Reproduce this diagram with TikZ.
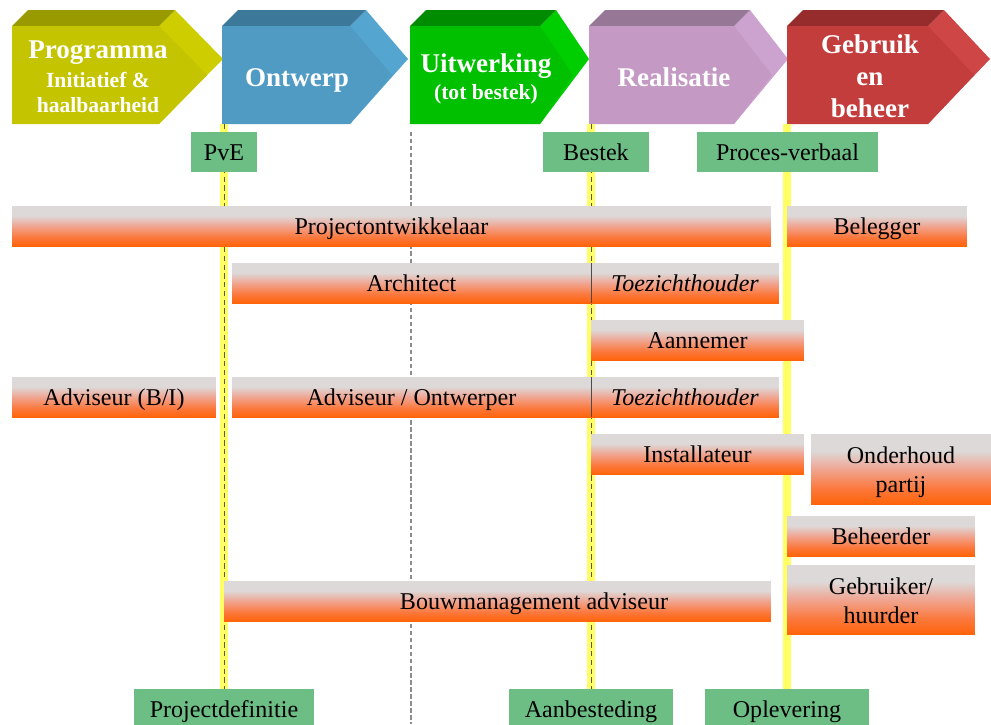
\documentclass[tikz,border=0pt]{standalone}
\usepackage{fontspec}
\setmainfont{Liberation Serif}

\definecolor{progf}{RGB}{197,196,0}
\definecolor{progt}{RGB}{153,153,0}
\definecolor{progs}{RGB}{205,205,0}
\definecolor{ontf}{RGB}{79,155,196}
\definecolor{ontt}{RGB}{59,120,153}
\definecolor{onts}{RGB}{84,165,208}
\definecolor{uitf}{RGB}{0,192,0}
\definecolor{uitt}{RGB}{0,140,0}
\definecolor{uits}{RGB}{0,206,0}
\definecolor{realf}{RGB}{196,153,196}
\definecolor{realt}{RGB}{150,120,150}
\definecolor{reals}{RGB}{204,162,206}
\definecolor{gebrf}{RGB}{196,61,61}
\definecolor{gebrt}{RGB}{150,44,44}
\definecolor{gebrs}{RGB}{206,70,70}
\definecolor{mgreen}{RGB}{109,190,133}
\definecolor{myellow}{RGB}{255,255,100}
\definecolor{bartop}{RGB}{221,217,217}
\definecolor{barmid}{RGB}{240,165,145}
\definecolor{barlow}{RGB}{251,120,60}
\definecolor{barbot}{RGB}{255,100,10}

\pgfdeclareverticalshading{rolebar}{100bp}{color(0bp)=(barbot); color(25bp)=(barbot);
  color(36bp)=(barlow); color(50bp)=(barmid); color(63bp)=(bartop); color(75bp)=(bartop);
  color(100bp)=(bartop)}

\newcommand\rolefont{\fontsize{13.7}{16.5}\selectfont}

\begin{document}
\begin{tikzpicture}[x=0.02cm, y=-0.02cm,
    role/.style={shade, shading=rolebar, minimum height=0.8cm, inner sep=0pt,
      font=\rolefont, text height=10.5pt, text depth=0.3pt},
    tworole/.style={role, align=center, text height=27.3pt},
    mstone/.style={fill=mgreen, minimum height=0.8cm, inner sep=0pt,
      font=\rolefont, text height=10.5pt, text depth=0.3pt},
    head/.style={text=white, font=\bfseries\fontsize{15.4}{18}\selectfont,
      anchor=base, inner sep=0pt},
    subhead/.style={head, font=\bfseries\fontsize{12.3}{14}\selectfont},
    mline/.style={draw=myellow, line width=0.16cm},
    mdash/.style={draw=black!65, line width=0.5pt, dash pattern=on 3pt off 2pt},
    split/.style={draw=black!45, line width=0.6pt, dash pattern=on 2.5pt off 1.5pt},
    sep/.style={draw=black!70, line width=0.8pt}]
  \useasboundingbox (0,0) rectangle (991,724);
  \clip (0,0) rectangle (991,724);

  \foreach \xa/\xb/\xt/\cf/\ct/\cs in {12/159/207/progf/progt/progs,
      222/350/392/ontf/ontt/onts, 410/540/573/uitf/uitt/uits,
      589/734/772/realf/realt/reals, 787/928/974/gebrf/gebrt/gebrs} {
    \fill[\cs] (\xb,26) -- (\xb+16,10) -- (\xt+16,59) -- (\xb,124) -- cycle;
    \fill[\ct] (\xa,26) -- (\xa+16,10) -- (\xb+16,10) -- (\xb,26) -- cycle;
    \fill[\cf] (\xa,26) -- (\xb,26) -- (\xt,75) -- (\xb,124) -- (\xa,124) -- cycle;
  }

  \node[head] (prog) at (98,58) {Programma};
  \node[subhead] (init) at (98,87) {Initiatief \&};
  \node[subhead] (haal) at (98,112) {haalbaarheid};
  \node[head] (ontw) at (297,86) {Ontwerp};
  \node[head] (uitw) at (486,72) {Uitwerking};
  \node[subhead] (totb) at (486,99) {(tot bestek)};
  \node[head] (real) at (674,86) {Realisatie};
  \node[head] (gebr) at (870,53) {Gebruik};
  \node[head] (en) at (870,85) {en};
  \node[head] (beh) at (870,117) {beheer};

  \coordinate (m1) at (224,124);
  \coordinate (m2) at (591,124);
  \coordinate (m3) at (787,124);
  \coordinate (s1) at (411,132);
  \coordinate (s2) at (411,724);
  \node[mstone, minimum width=3.6cm] (pdef) at (224,709) {Projectdefinitie};
  \node[mstone, minimum width=3.28cm] (aanb) at (591,709) {Aanbesteding};
  \node[mstone, minimum width=3.28cm] (oplev) at (787,709) {Oplevering};
  \draw[split] (s1) -- (s2);
  \draw[mline] (m1) -- (pdef.north);
  \draw[mline] (m2) -- (aanb.north);
  \draw[mline] (m3) -- (oplev.north);
  \draw[mdash] (m1) -- (pdef.north);
  \draw[mdash] (m2) -- (aanb.north);

  \node[mstone, minimum width=1.32cm] (pve) at (224,152) {PvE};
  \node[mstone, minimum width=2.12cm] (bestek) at (596,152) {Bestek};
  \node[mstone, minimum width=3.62cm] (pverb) at (787.5,152) {Proces-verbaal};

  \node[role, minimum width=15.18cm] (pontw) at (391.5,226) {Projectontwikkelaar};
  \node[role, minimum width=3.6cm] (beleg) at (877,226) {Belegger};
  \node[role, minimum width=7.18cm] (arch) at (411.5,283) {Architect};
  \node[role, minimum width=3.76cm] (toez1) at (685,283) {\itshape Toezichthouder};
  \node[role, minimum width=4.26cm] (aann) at (697.5,340) {Aannemer};
  \node[role, minimum width=4.08cm] (advbi) at (114,397) {Adviseur (B/I)};
  \node[role, minimum width=7.18cm] (advon) at (411.5,397) {Adviseur / Ontwerper};
  \node[role, minimum width=3.76cm] (toez2) at (685,397) {\itshape Toezichthouder};
  \node[role, minimum width=4.26cm] (inst) at (697.5,454) {Installateur};
  \node[tworole, minimum width=3.6cm, minimum height=1.4cm] (onderh) at (901,469) {Onderhoud\\partij};
  \node[role, minimum width=3.76cm] (behr) at (881,536) {Beheerder};
  \node[tworole, minimum width=3.76cm, minimum height=1.38cm] (gebru) at (881,599.5) {Gebruiker/\\huurder};
  \node[role, minimum width=10.94cm] (bmbar) at (497.5,601) {};
  \node[font=\rolefont, inner sep=0pt, text height=10.5pt, text depth=0.3pt] (bmtext) at (534,601) {Bouwmanagement adviseur};
  \draw[sep] (arch.north east) -- (arch.south east);
  \draw[sep] (advon.north east) -- (advon.south east);
\end{tikzpicture}
\end{document}
